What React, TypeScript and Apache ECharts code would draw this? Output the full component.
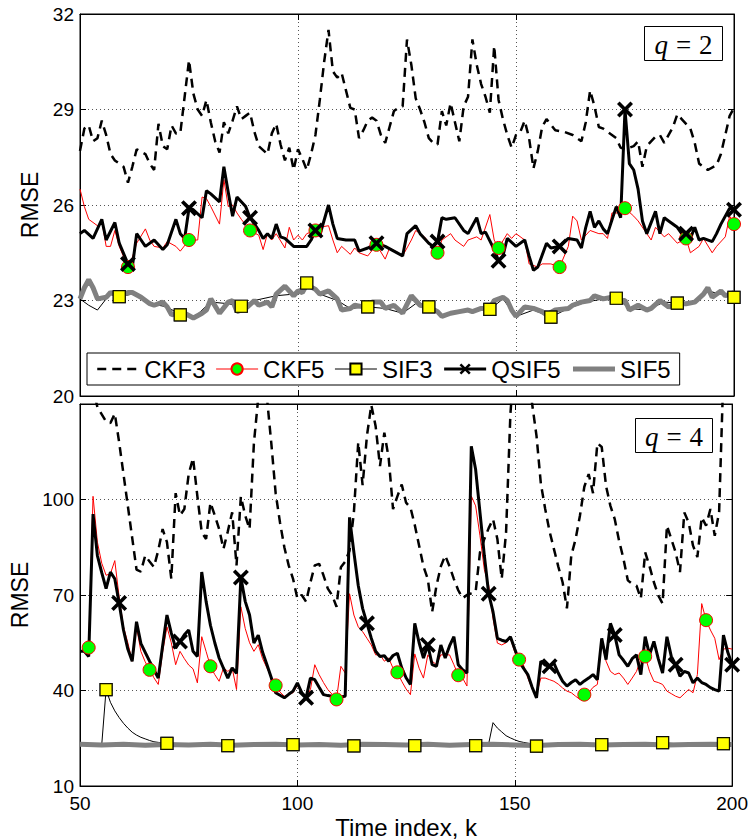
import React, { useEffect, useRef } from 'react';
import * as echarts from 'echarts';

// ---------- x axis ticks ----------
const xTicks = [50, 100, 150, 200];

// ---------- top panel (q = 2) ----------
const topCKF3: [number, number][] = [[50,27.7],[51,28.4],[52,28.5],[53,28.0],[54,28.1],[55,28.65],[56,28.2],[57,27.6],[58,27.4],[60,27.2],[61,26.7],[62,27.2],[63,27.75],[65,27.6],[66,27.3],[67,27.1],[68,28.55],[69,27.85],[70,27.75],[71,28.5],[72,28.25],[73,28.25],[74,29.4],[75,30.55],[76,29.5],[77,29.0],[78,28.8],[79,29.3],[80,28.6],[81,28.0],[82,27.65],[83,28.6],[84,28.25],[85,28.65],[86,29.1],[87,28.7],[88,28.8],[89,28.9],[90,28.3],[91,27.85],[93,27.6],[94,28.25],[95,28.55],[96,27.9],[97,27.4],[98,27.8],[99,27.1],[100,27.75],[101,27.45],[102,27.1],[103,27.6],[104,28.2],[105,29.3],[106,30.5],[107,31.5],[108,30.2],[109,30.0],[110,30.15],[111,29.6],[112,29.05],[113,29.0],[114,28.1],[115,28.35],[116,28.65],[117,28.75],[118,28.65],[119,28.2],[120,27.95],[121,28.45],[122,28.95],[123,29.05],[124,29.1],[125,31.2],[126,30.4],[127,29.35],[128,29.0],[129,28.6],[130,28.1],[131,27.95],[132,27.9],[133,28.95],[134,28.5],[135,29.2],[136,28.6],[137,28.0],[138,29.1],[139,29.4],[140,31.2],[141,30.4],[142,29.8],[143,29.4],[144,28.9],[145,31.0],[146,29.3],[147,28.7],[148,28.2],[149,27.8],[150,28.2],[151,28.3],[152,28.65],[153,28.1],[154,27.15],[155,27.7],[156,28.45],[157,28.7],[159,28.35],[161,28.3],[163,28.2],[165,28.0],[166,28.6],[167,29.6],[168,29.1],[169,28.45],[170,28.4],[171,28.3],[173,28.1],[174,27.8],[175,27.75],[177,27.85],[178,28.0],[179,27.2],[180,27.85],[182,28.15],[183,28.2],[184,27.95],[186,28.45],[187,28.85],[188,28.7],[190,28.4],[191,27.95],[192,27.3],[194,27.1],[196,27.25],[197,27.6],[199,28.8],[200,29.05]];
const topCKF5: [number, number][] = [[50,26.5],[51,25.95],[52,25.55],[54,25.35],[55,25.5],[56,24.7],[57,24.7],[58,25.2],[59,24.7],[61,24.05],[62,24.35],[63,24.8],[65,25.25],[66,24.9],[67,24.7],[69,24.65],[70,24.85],[72,24.7],[73,24.55],[75,24.9],[77,24.9],[78,26.25],[79,26.2],[80,25.95],[82,25.4],[83,26.8],[84,25.95],[85,26.0],[86,25.75],[87,25.55],[89,25.2],[91,25.05],[92,24.6],[93,25.1],[94,24.9],[95,25.1],[97,24.65],[98,25.3],[99,24.9],[100,25.05],[101,24.9],[102,25.1],[104,25.2],[105,25.3],[107,25.35],[108,24.9],[109,24.5],[110,24.7],[112,24.45],[113,24.65],[114,24.5],[116,24.4],[118,24.75],[120,24.3],[121,24.65],[123,24.5],[124,24.4],[126,24.9],[127,25.2],[129,25.0],[132,24.5],[133,24.9],[135,25.1],[136,24.9],[138,24.7],[139,24.9],[141,25.0],[142,24.9],[144,25.7],[145,24.9],[146,24.65],[148,25.1],[149,24.95],[150,25.1],[152,24.9],[153,24.15],[155,24.05],[156,24.15],[158,24.15],[160,24.05],[162,24.7],[163,25.65],[164,25.5],[165,24.9],[167,25.2],[169,25.1],[170,25.1],[171,24.95],[172,25.75],[174,25.75],[175,25.9],[177,25.65],[178,25.5],[180,25.1],[181,24.9],[182,25.3],[184,25.0],[185,25.1],[187,24.8],[189,24.95],[190,24.5],[192,24.7],[193,24.95],[195,24.5],[196,24.7],[198,25.0],[199,25.65],[200,25.4]];
const topSIF3: [number, number][] = [[50,23.05],[52,22.85],[54,22.7],[56,23.05],[57,23.2],[59,23.12],[62,23.2],[66,22.9],[70,22.8],[73,22.55],[76,22.45],[80,22.95],[84,22.9],[87,22.82],[90,23.0],[95,23.15],[99,23.2],[102,23.55],[105,23.2],[109,23.0],[112,22.75],[116,22.8],[120,22.75],[124,22.6],[127,22.9],[130,22.8],[133,22.55],[137,22.65],[141,22.7],[144,22.72],[147,23.05],[150,22.5],[154,22.7],[158,22.48],[162,22.75],[166,22.95],[170,23.05],[173,23.07],[176,22.75],[180,22.7],[184,22.95],[187,22.92],[191,22.95],[194,23.3],[197,23.2],[200,23.1]];
const topQSIF5: [number, number][] = [[50,25.1],[51,25.2],[53,24.95],[55,25.55],[56,24.9],[58,25.45],[59,24.8],[61,24.15],[62,24.05],[63,25.1],[64,24.9],[65,24.7],[67,24.9],[69,24.6],[70,24.75],[72,25.55],[73,25.1],[74,24.95],[75,25.9],[76,25.85],[78,25.6],[79,26.45],[80,26.35],[82,26.1],[83,27.2],[84,26.4],[85,25.65],[86,26.25],[88,25.95],[89,25.6],[91,25.2],[92,24.95],[93,25.1],[94,24.95],[95,25.4],[96,25.0],[97,24.95],[99,24.7],[100,24.7],[102,24.7],[103,24.9],[104,25.2],[105,25.05],[107,26.0],[108,25.4],[109,24.95],[111,24.9],[113,24.9],[114,24.55],[116,24.65],[118,24.8],[120,24.7],[122,24.55],[124,24.4],[125,25.1],[127,25.35],[128,25.1],[130,24.8],[131,24.7],[132,24.85],[133,25.6],[134,25.55],[136,25.6],[138,25.2],[139,25.1],[141,25.6],[142,25.1],[143,25.15],[145,24.6],[146,24.25],[147,24.4],[148,24.95],[150,24.7],[152,24.9],[153,24.4],[154,23.95],[155,24.05],[157,24.8],[158,24.65],[160,24.7],[162,24.95],[164,24.9],[165,24.65],[166,25.3],[167,25.8],[168,25.3],[169,25.5],[170,25.25],[171,25.1],[173,25.95],[174,25.6],[175,29.0],[176,27.3],[177,27.1],[178,26.5],[179,25.5],[180,25.1],[182,25.8],[183,25.1],[184,25.6],[185,25.5],[187,25.3],[188,25.1],[189,25.1],[190,24.95],[191,25.3],[192,24.9],[193,24.95],[195,24.85],[196,25.1],[197,25.4],[199,25.9],[200,25.85]];
const topSIF5: [number, number][] = [[50,23.05],[51,23.4],[52,23.65],[53,23.4],[54,23.05],[56,23.1],[57,23.25],[59,23.15],[61,23.25],[62,23.25],[64,23.1],[66,22.9],[67,22.85],[69,22.95],[70,22.8],[71,22.55],[73,22.65],[74,22.6],[76,22.45],[78,22.6],[79,22.7],[80,23.05],[82,22.6],[84,22.95],[85,23.0],[86,22.65],[88,22.75],[90,23.0],[91,22.85],[93,22.95],[94,22.8],[95,23.2],[97,23.45],[99,23.15],[100,23.3],[101,23.25],[102,23.5],[104,23.35],[105,23.2],[107,23.3],[109,23.05],[110,22.7],[112,22.75],[113,22.85],[115,22.8],[117,22.95],[119,22.95],[120,22.75],[122,22.85],[124,22.6],[126,23.15],[128,22.85],[130,22.8],[132,22.65],[133,22.5],[135,22.6],[137,22.65],[139,22.7],[140,22.65],[142,22.75],[144,22.75],[145,23.0],[147,23.1],[148,23.0],[149,22.7],[150,22.5],[152,22.8],[154,22.75],[156,22.65],[157,22.55],[159,22.7],[162,22.75],[163,22.85],[165,22.95],[167,23.0],[168,23.15],[170,23.05],[172,23.1],[173,23.0],[175,23.0],[176,22.7],[178,22.85],[180,22.7],[181,22.75],[183,23.0],[185,22.8],[187,22.9],[189,22.9],[191,22.95],[193,23.2],[194,23.4],[195,23.1],[197,23.3],[198,23.15],[200,23.25]];
const topCKF5Marks = [61, 75, 89, 104, 118, 132, 146, 160, 175, 189, 200];
const topQSIF5Marks = [61, 75, 89, 104, 118, 132, 146, 160, 175, 189, 200];
const topSIF3Marks = [59, 73, 87, 102, 116, 130, 144, 158, 173, 187, 200];

// ---------- bottom panel (q = 4) ----------
const botCKF3: [number, number][] = [[50,150],[52,142],[53,135],[54,129],[56,124.5],[57,124],[58,127],[59,118],[60,108],[61,98],[62,88],[63,78],[64,77.3],[65,82.4],[66,80.5],[67,78.8],[68,84],[69,90.7],[70,86.6],[71,75.1],[72,102],[73,95],[74,97],[75,108],[76,113],[77,101],[78,89.7],[79,87.6],[80,99],[81,95],[82,90.7],[83,84.5],[84,90],[85,96],[86,79.3],[87,101],[88,95],[89,90.7],[90,117.7],[91,132],[92,140],[93,132],[94,117.7],[95,102],[96,92.8],[97,85],[98,79.3],[99,75.1],[100,68.9],[101,70],[102,67.9],[103,74],[104,79.3],[105,79.8],[106,76.2],[107,72],[108,69.9],[109,66.3],[110,78.7],[111,80.5],[112,84],[113,96],[114,118],[115,104.5],[116,120],[117,129.7],[118,123],[119,110.5],[120,121],[121,113],[122,97],[123,101],[124,104.7],[125,99],[126,97.5],[127,92],[128,85.5],[129,79],[130,75],[131,64.7],[132,73],[133,79],[134,82.4],[135,79],[136,75],[137,71.5],[138,69],[139,70],[140,70.5],[141,71],[142,83.4],[143,87.6],[144,91],[145,93.8],[146,87.6],[147,75.1],[148,89.7],[149,127],[150,145],[152,150],[153,140],[154,130],[155,120],[156,105],[157,97],[158,90],[159,84.5],[160,79],[161,74],[162,65.8],[163,82.4],[164,87.6],[165,95],[166,104],[167,108],[168,102],[169,117.7],[170,116.5],[171,104.2],[172,98],[173,93.8],[174,87],[175,81.4],[176,74.6],[177,73.5],[178,72.9],[179,68.9],[180,83.4],[181,79],[182,74],[183,69.9],[184,67.3],[185,91.8],[186,87.6],[187,83.4],[188,77.2],[189,95.9],[190,92.8],[191,85.5],[192,81.9],[193,94.4],[194,91.8],[195,97],[196,88.6],[197,96],[198,140],[200,170]];
const botCKF5: [number, number][] = [[50,52.3],[51,53],[52,53.5],[53,101],[54,86.6],[55,80],[56,76.2],[57,76.7],[58,80.8],[59,69.4],[60,60],[61,55],[62,49.2],[63,60],[64,52.3],[65,49],[66,46.5],[67,44],[68,41.9],[69,52],[70,60],[71,55],[72,48.1],[73,52.3],[74,50],[75,48],[76,46.8],[77,42.4],[78,56.9],[79,52.3],[80,47.6],[81,45],[82,42.9],[83,47.1],[84,46],[85,47.1],[86,40.3],[87,66.3],[88,59.5],[89,55],[90,52.3],[91,54.4],[92,50],[93,47.1],[94,44],[95,41.6],[96,39.5],[97,38.2],[98,38.8],[99,39.3],[100,41.6],[101,39.5],[102,37.7],[103,40.3],[104,48.1],[105,45],[106,42.5],[107,40.3],[108,38.8],[109,37.2],[110,47.6],[111,45.5],[112,70.4],[113,63.7],[114,60],[115,58.5],[116,56.4],[117,54.3],[118,51.2],[119,51.2],[120,49.2],[121,50.2],[122,47],[123,45.7],[124,42.9],[125,40.5],[126,38.7],[127,51.5],[128,47],[129,43.9],[130,51.2],[131,49.2],[132,48.1],[133,51.2],[134,51.2],[135,51.2],[136,48.1],[137,44.8],[138,43.9],[139,41.4],[140,101.1],[141,98],[142,88.6],[143,78],[144,73],[145,62.6],[146,54.9],[147,54.3],[148,55],[149,56.4],[150,52],[151,49.7],[152,48],[153,44],[154,40.5],[155,38.7],[156,43.9],[157,43.9],[158,43.4],[159,42.9],[160,42],[161,40.8],[162,39.8],[163,39.3],[164,38.2],[165,37.2],[166,38.7],[167,39.3],[168,41],[169,41.9],[170,55.4],[171,49.2],[172,46],[173,45],[174,45.5],[175,43.9],[176,41.9],[177,43.9],[178,46],[179,49.7],[180,50.7],[181,46],[182,42.9],[183,42.5],[184,41.9],[185,39.8],[186,39],[187,38.2],[188,37.7],[189,39],[190,40.3],[191,39.3],[192,45],[193,67.3],[194,62.1],[195,59],[196,56.4],[197,49.7],[198,53],[199,53.3],[200,53]];
const botSIF3: [number, number][] = [[50,23.1],[55,23.0],[56,40.3],[57,36.3],[58,33.6],[59,31.5],[60,29.7],[61,28.2],[62,26.9],[63,26.0],[64,25.3],[65,24.8],[66,24.3],[67,23.9],[68,23.7],[70,23.4],[75,22.9],[80,23.1],[84,22.7],[90,23.0],[95,23.1],[99,23.0],[105,23.0],[110,22.8],[113,22.6],[120,23.0],[127,22.7],[130,23.1],[135,22.8],[141,22.7],[144,23.3],[145,29.9],[146,28.2],[147,27.0],[148,25.8],[149,25.1],[150,24.5],[151,24.0],[152,23.7],[154,23.2],[155,22.5],[160,23.0],[165,23.1],[170,23.0],[175,23.0],[180,23.1],[184,23.6],[190,23.0],[195,23.1],[198,23.3],[200,23.0]];
const botQSIF5: [number, number][] = [[50,52.3],[51,52.3],[52,50.7],[53,95.4],[54,82.4],[55,77],[56,72],[57,77.2],[58,75.1],[59,67.5],[60,59],[61,53],[62,49.2],[63,61.6],[64,54.8],[65,52],[66,49.2],[67,46.5],[68,43.9],[69,54],[70,63.7],[71,58],[72,53.3],[73,55.4],[74,57.5],[75,59],[76,52.3],[77,50.7],[78,77.2],[79,68],[80,60.5],[81,55],[82,50.2],[83,47],[84,43.9],[85,47.1],[86,45.4],[87,75.5],[88,68],[89,63.7],[90,54.9],[91,57.4],[92,52],[93,48.1],[94,44],[95,39.3],[96,38.5],[97,37.7],[98,38.8],[99,39.8],[100,42.4],[101,39.3],[102,37.7],[103,43.9],[104,43.4],[105,41],[106,38.7],[107,38.4],[108,38.2],[109,36.8],[110,38],[111,38.2],[112,94.4],[113,83.4],[114,73],[115,65.8],[116,61.1],[117,56.4],[118,52.3],[119,50.7],[120,50.9],[121,49.2],[122,51],[123,51.7],[124,47.1],[125,44],[126,41.9],[127,61.1],[128,55],[129,50.2],[130,54.3],[131,48.1],[132,47.6],[133,54.3],[134,50.2],[135,54],[136,56.9],[137,48.1],[138,46.5],[139,45.5],[140,116.7],[141,109.4],[142,95.9],[143,82.4],[144,70.4],[145,64.7],[146,56.4],[147,55.8],[148,55.4],[149,56.9],[150,53],[151,49.2],[152,47],[153,45],[154,41],[155,37.7],[156,49.2],[157,48],[158,47.6],[159,48.6],[160,45.5],[161,42.9],[162,41.4],[163,42.5],[164,43.4],[165,41.9],[166,43],[167,43.9],[168,45],[169,43.4],[170,56.4],[171,49.7],[172,61.1],[173,57.4],[174,51.2],[175,49.5],[176,47.6],[177,50],[178,51.2],[179,45],[180,56.9],[181,51.2],[182,55.4],[183,50],[184,45.5],[185,56.9],[186,50.7],[187,48.1],[188,44.5],[189,46],[190,45.5],[191,42.4],[192,43.9],[193,42.5],[194,41.9],[195,40.9],[196,40.3],[197,39.8],[198,57.4],[199,52],[200,48.1]];
const botSIF5: [number, number][] = [[50,23.1],[55,22.9],[60,23.1],[65,22.8],[70,23.0],[75,22.9],[80,23.1],[85,22.8],[90,23.0],[95,23.1],[100,22.9],[105,23.0],[110,22.8],[115,23.1],[120,23.0],[125,22.9],[130,23.1],[135,22.8],[140,23.0],[145,23.1],[150,22.9],[155,22.7],[160,23.0],[165,23.1],[170,22.9],[175,23.0],[180,23.1],[185,22.9],[190,23.0],[195,23.1],[200,23.0]];
const botCKF5Marks = [52, 66, 80, 95, 109, 123, 137, 151, 166, 180, 194];
const botQSIF5Marks = [59, 73, 87, 102, 116, 130, 144, 158, 173, 187, 200];
const botSIF3Marks = [56, 70, 84, 99, 113, 127, 141, 155, 170, 184, 198];

const legendNames = ['CKF3', 'CKF5', 'SIF3', 'QSIF5', 'SIF5'];

const FONT = 'Liberation Sans, Arial, Helvetica, sans-serif';
const SERIF = 'Liberation Serif, DejaVu Serif, serif';
const X_SYMBOL = 'path://M0,1.6L1.6,0L5,3.4L8.4,0L10,1.6L6.6,5L10,8.4L8.4,10L5,6.6L1.6,10L0,8.4L3.4,5Z';
const NOFILL = 'rgba(0,0,0,0)';

// line widths / styles per legend entry
const styles: Record<string, any> = {
  CKF3: { color: '#000', width: 2.5, type: [9, 6] },
  CKF5: { color: '#ff0000', width: 1, type: 'solid' },
  SIF3: { color: '#000', width: 1, type: 'solid' },
  QSIF5: { color: '#000', width: 3, type: 'solid' },
  SIF5: { color: '#808080', width: 5, type: 'solid' },
};

function marked(data: [number, number][], marks: number[]) {
  return data.map(([k, v]) => (marks.includes(k) ? { value: [k, v] } : { value: [k, v], symbol: 'none' }));
}
function onlyMarks(data: [number, number][], marks: number[]) {
  return data.filter(([k]) => marks.includes(k));
}

function panelSeries(idx: number, d: any) {
  const base = { type: 'line', xAxisIndex: idx, yAxisIndex: idx, animation: false, showAllSymbol: true };
  return [
    { ...base, name: 'CKF3', data: d.ckf3, symbol: 'none', lineStyle: styles.CKF3,
      itemStyle: { color: NOFILL, borderColor: NOFILL, borderWidth: 0 } },
    { ...base, name: 'CKF5', data: marked(d.ckf5, d.ckf5Marks), symbol: 'circle', symbolSize: 13,
      lineStyle: styles.CKF5, itemStyle: { color: '#00ff00', borderColor: '#ff0000', borderWidth: 1 } },
    { ...base, name: 'SIF3', data: marked(d.sif3, d.sif3Marks), symbol: 'rect', symbolSize: 12,
      lineStyle: styles.SIF3, itemStyle: { color: '#ffff00', borderColor: '#000', borderWidth: 1.2 } },
    { ...base, name: 'QSIF5', data: marked(d.qsif5, d.qsif5Marks), symbol: X_SYMBOL, symbolSize: 16,
      lineStyle: styles.QSIF5, itemStyle: { color: '#000' } },
    { ...base, name: 'SIF5', data: d.sif5, symbol: 'none', lineStyle: styles.SIF5,
      itemStyle: { color: NOFILL, borderColor: NOFILL, borderWidth: 0 } },
    { type: 'scatter', name: 'SIF3', xAxisIndex: idx, yAxisIndex: idx, z: 5, data: onlyMarks(d.sif3, d.sif3Marks),
      symbol: 'rect', symbolSize: 12, itemStyle: { color: '#ffff00', borderColor: '#000', borderWidth: 1.2 } },
  ];
}

const gridLine = { show: true, lineStyle: { color: '#555', width: 1, type: [1, 3] } };
const axisLine = { show: true, onZero: false, lineStyle: { color: '#000', width: 1 } };
const tick = { show: true, inside: true, length: 6, lineStyle: { color: '#000' } };
const lbl = { color: '#000', fontSize: 19, fontFamily: FONT };

export default function App() {
  const ref = useRef<HTMLDivElement>(null);
  useEffect(() => {
    document.body.style.margin = '0';
    if (!ref.current) return;
    const chart = echarts.init(ref.current, null, { renderer: 'svg' });
    const xBase = { type: 'value', min: xTicks[0], max: xTicks[xTicks.length - 1], interval: 50, axisLine, axisTick: tick };
    const option: any = {
      animation: false,
      backgroundColor: '#fff',
      grid: [
        { left: 80, right: 17, top: 14, height: 382, show: true, borderColor: '#000', borderWidth: 1 },
        { left: 80, right: 17, top: 404, height: 384, show: true, borderColor: '#000', borderWidth: 1 },
      ],
      xAxis: [
        { ...xBase, gridIndex: 0, position: 'bottom', axisLabel: { show: false }, splitLine: gridLine },
        { ...xBase, gridIndex: 1, position: 'bottom', axisLabel: { ...lbl, margin: 8 }, splitLine: gridLine,
          name: 'Time index, k', nameLocation: 'middle', nameGap: 29, nameTextStyle: { color: '#000', fontSize: 24, fontFamily: FONT } },
        { ...xBase, gridIndex: 0, position: 'top', axisLabel: { show: false }, splitLine: { show: false } },
        { ...xBase, gridIndex: 1, position: 'top', axisLabel: { show: false }, splitLine: { show: false } },
      ],
      yAxis: [
        { type: 'value', gridIndex: 0, min: 20, max: 32, interval: 3, position: 'left', axisLine, axisTick: tick,
          axisLabel: { ...lbl, margin: 6 }, splitLine: gridLine,
          name: 'RMSE', nameLocation: 'middle', nameGap: 35, nameTextStyle: { color: '#000', fontSize: 23, fontFamily: FONT } },
        { type: 'value', gridIndex: 1, min: 10, max: 130, interval: 30, position: 'left', axisLine, axisTick: tick,
          axisLabel: { ...lbl, margin: 6, formatter: (v: number) => (v === 130 ? '' : String(v)) }, splitLine: gridLine,
          name: 'RMSE', nameLocation: 'middle', nameGap: 46, nameTextStyle: { color: '#000', fontSize: 23, fontFamily: FONT } },
        { type: 'value', gridIndex: 0, min: 20, max: 32, interval: 3, position: 'right', axisLine, axisTick: tick,
          axisLabel: { show: false }, splitLine: { show: false } },
        { type: 'value', gridIndex: 1, min: 10, max: 130, interval: 30, position: 'right', axisLine, axisTick: tick,
          axisLabel: { show: false }, splitLine: { show: false } },
      ],
      legend: {
        data: legendNames.map((n) => ({ name: n, lineStyle: { color: styles[n].color, width: styles[n].width, type: styles[n].type } })),
        left: 87, top: 353,
        itemWidth: 42, itemHeight: 14, itemGap: 10,
        padding: [4, 9],
        borderColor: '#000', borderWidth: 1, backgroundColor: '#fff',
        textStyle: { color: '#000', fontSize: 24, fontFamily: FONT },
        selectedMode: false,
      },
      series: [
        ...panelSeries(0, { ckf3: topCKF3, ckf5: topCKF5, ckf5Marks: topCKF5Marks, sif3: topSIF3, sif3Marks: topSIF3Marks,
          qsif5: topQSIF5, qsif5Marks: topQSIF5Marks, sif5: topSIF5 }),
        ...panelSeries(1, { ckf3: botCKF3, ckf5: botCKF5, ckf5Marks: botCKF5Marks, sif3: botSIF3, sif3Marks: botSIF3Marks,
          qsif5: botQSIF5, qsif5Marks: botQSIF5Marks, sif5: botSIF5 }),
      ],
      graphic: [
        { type: 'group', left: 644, top: 26, z: 100, children: [
          { type: 'rect', shape: { x: 0, y: 0, width: 78, height: 34 }, style: { fill: '#fff', stroke: '#000', lineWidth: 1 } },
          { type: 'text', x: 39, y: 18, style: { text: '{i|q}{e|=}{n|2}', align: 'center', verticalAlign: 'middle', fill: '#000',
            rich: { i: { fontFamily: SERIF, fontStyle: 'italic', fontSize: 27 }, e: { fontFamily: SERIF, fontSize: 27, padding: [0, 8] }, n: { fontFamily: SERIF, fontSize: 27 } } } },
        ] },
        { type: 'group', left: 635, top: 418, z: 100, children: [
          { type: 'rect', shape: { x: 0, y: 0, width: 77, height: 34 }, style: { fill: '#fff', stroke: '#000', lineWidth: 1 } },
          { type: 'text', x: 38.5, y: 18, style: { text: '{i|q}{e|=}{n|4}', align: 'center', verticalAlign: 'middle', fill: '#000',
            rich: { i: { fontFamily: SERIF, fontStyle: 'italic', fontSize: 27 }, e: { fontFamily: SERIF, fontSize: 27, padding: [0, 8] }, n: { fontFamily: SERIF, fontSize: 27 } } } },
        ] },
      ],
    };
    chart.setOption(option);
    return () => chart.dispose();
  }, []);
  return <div ref={ref} style={{ width: 751, height: 840 }} />;
}
